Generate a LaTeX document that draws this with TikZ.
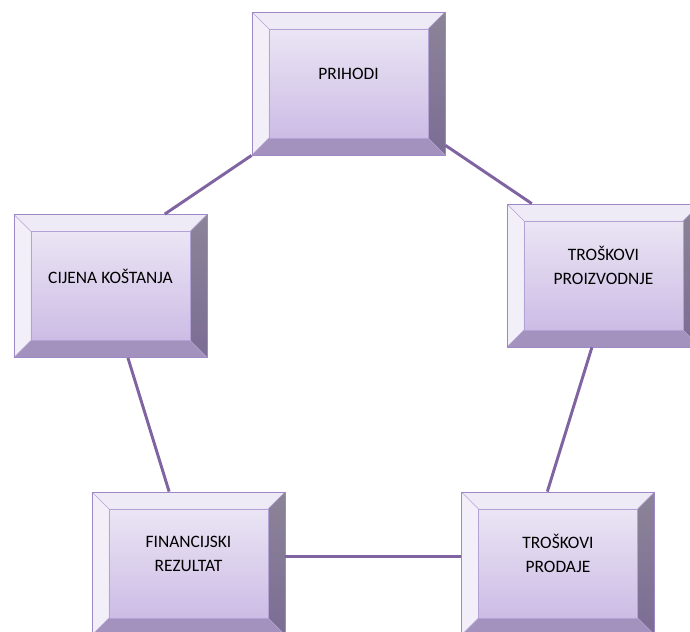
\documentclass[tikz,border=0pt]{standalone}
\usepackage{fontspec}
\setmainfont{Carlito}
\usetikzlibrary{calc}
\definecolor{bevtop}{HTML}{EEEAF6}
\definecolor{bevleft}{HTML}{F2EFF8}
\definecolor{bevrighttop}{HTML}{8C8498}
\definecolor{bevrightbot}{HTML}{7B6D94}
\definecolor{bevbottom}{HTML}{A292BD}
\definecolor{facetop}{HTML}{EBE5F4}
\definecolor{facebot}{HTML}{CCBCE5}
\definecolor{boxedge}{HTML}{9E89C6}
\definecolor{faceedge}{HTML}{B3A2D6}
\definecolor{link}{HTML}{8064A2}
\newcommand{\bev}{0.425cm}
\tikzstyle{bevelbox}=[rectangle,draw=boxedge,line width=0.6pt,minimum width=4.825cm,minimum height=3.575cm,inner sep=0pt,
	path picture={
		\coordinate (bnw) at (path picture bounding box.north west);
		\coordinate (bne) at (path picture bounding box.north east);
		\coordinate (bsw) at (path picture bounding box.south west);
		\coordinate (bse) at (path picture bounding box.south east);
		\fill[bevtop] (bnw) -- (bne) -- ($(bne)+(-\bev,-\bev)$) -- ($(bnw)+(\bev,-\bev)$) -- cycle;
		\fill[bevleft] (bnw) -- (bsw) -- ($(bsw)+(\bev,\bev)$) -- ($(bnw)+(\bev,-\bev)$) -- cycle;
		\shade[top color=bevrighttop,bottom color=bevrightbot] (bne) -- (bse) -- ($(bse)+(-\bev,\bev)$) -- ($(bne)+(-\bev,-\bev)$) -- cycle;
		\fill[bevbottom] (bsw) -- (bse) -- ($(bse)+(-\bev,\bev)$) -- ($(bsw)+(\bev,\bev)$) -- cycle;
		\shade[top color=facetop,bottom color=facebot,draw=faceedge,line width=0.6pt] ($(bnw)+(\bev,-\bev)$) rectangle ($(bse)+(-\bev,\bev)$);
		\draw[faceedge,line width=0.4pt] (bnw) -- ++(\bev,-\bev) (bne) -- ++(-\bev,-\bev) (bsw) -- ++(\bev,\bev) (bse) -- ++(-\bev,\bev);
	}]
\tikzstyle{boxtext}=[align=center,font=\fontsize{12.4}{17}\selectfont,text=black,yshift=0.25cm]
\tikzstyle{conn}=[draw=link,line width=2.1pt]

\begin{document}
\begin{tikzpicture}[x=0.025cm,y=-0.025cm]
	\useasboundingbox (0,0) rectangle (690,631);
	\clip (0,0) rectangle (690,631);

	\node[bevelbox,label={[boxtext]center:PRIHODI}] (prihodi) at (348.5,83.5) {};
	\node[bevelbox,label={[boxtext]center:CIJENA KOŠTANJA}] (cijena) at (110.5,286) {};
	\node[bevelbox,label={[boxtext]center:TROŠKOVI\\PROIZVODNJE}] (proizv) at (603.5,275.5) {};
	\node[bevelbox,label={[boxtext]center:FINANCIJSKI\\REZULTAT}] (fin) at (188.5,563.5) {};
	\node[bevelbox,label={[boxtext]center:TROŠKOVI\\PRODAJE}] (prodaje) at (558,563.5) {};

	\draw[conn] (prihodi.south west) -- ($(cijena.north west)!0.78!(cijena.north east)$);
	\draw[conn] ($(prihodi.north east)!0.93!(prihodi.south east)$) -- ($(proizv.north west)!0.13!(proizv.north east)$);
	\draw[conn] ($(proizv.south west)!0.44!(proizv.south east)$) -- ($(prodaje.north west)!0.445!(prodaje.north east)$);
	\draw[conn] ($(cijena.south west)!0.59!(cijena.south east)$) -- ($(fin.north west)!0.4!(fin.north east)$);
	\draw[conn] ($(fin.north east)!0.45!(fin.south east)$) -- ($(prodaje.north west)!0.45!(prodaje.south west)$);

\end{tikzpicture}
\end{document}
